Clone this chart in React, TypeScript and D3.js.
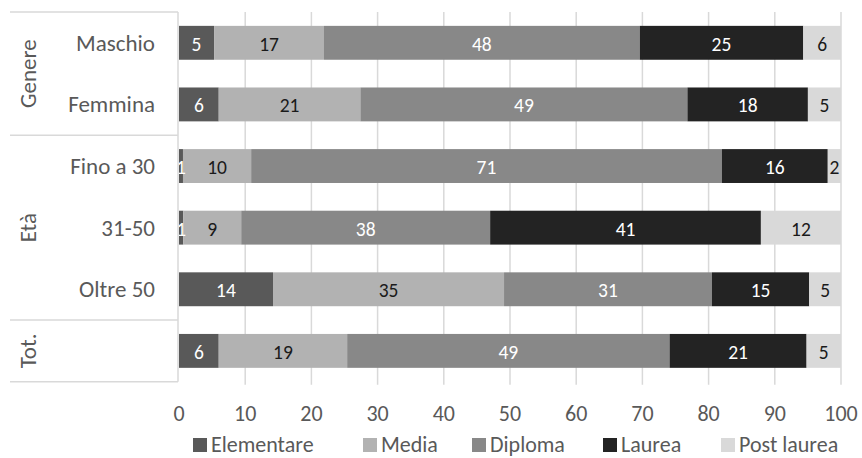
import { useEffect, useRef } from "react";
import * as d3 from "d3";

const categories = ["Maschio", "Femmina", "Fino a 30", "31-50", "Oltre 50", "Tot"];
const catLabels = ["Maschio", "Femmina", "Fino a 30", "31-50", "Oltre 50", ""];
const groupNames = ["Genere", "Età", "Tot."];
const groupSizes = [2, 3, 1];

const seriesNames = ["Elementare", "Media", "Diploma", "Laurea", "Post laurea"];
const elementare = [5.3, 6.0, 0.6, 0.65, 14.2, 6.0];
const media = [16.6, 21.4, 10.3, 8.75, 34.9, 19.4];
const diploma = [47.7, 49.4, 71.1, 37.6, 31.4, 48.7];
const laurea = [24.7, 18.2, 16.0, 40.9, 14.7, 20.7];
const postLaurea = [5.7, 5.0, 2.0, 12.1, 4.8, 5.2];
const xTicks = [0, 10, 20, 30, 40, 50, 60, 70, 80, 90, 100];

const colors = ["#595959", "#b2b2b2", "#888888", "#232323", "#d9d9d9"];
const labelColors = ["#ffffff", "#1a1a1a", "#ffffff", "#ffffff", "#1a1a1a"];
const font = "Carlito, Lato, sans-serif";

const W = 862;
const H = 458;

const App = () => {
    const svgRef = useRef<SVGSVGElement>(null);

    useEffect(() => {
        document.body.style.margin = "0";
        const svg = d3.select(svgRef.current);
        svg.selectAll("*").remove();

        const left = 179, right = 841, top = 12, bottom = 381.7;
        const x = d3.scaleLinear().domain([0, 100]).range([left, right]);
        const y = d3.scaleBand().domain(categories).range([top, bottom]).paddingInner(0.45).paddingOuter(0.225);

        const values = [elementare, media, diploma, laurea, postLaurea];
        const rows = categories.map((c, i) => {
            const r: any = { cat: c };
            seriesNames.forEach((s, j) => (r[s] = values[j][i]));
            return r;
        });
        const stacked = d3.stack().keys(seriesNames)(rows);

        // gridlines
        svg.append("g")
            .selectAll("line")
            .data(xTicks.slice(1))
            .join("line")
            .attr("x1", (d) => x(d))
            .attr("x2", (d) => x(d))
            .attr("y1", top)
            .attr("y2", bottom + 3)
            .attr("stroke", "#d9d9d9")
            .attr("stroke-width", 1.5);

        // bars
        svg.append("g")
            .selectAll("g")
            .data(stacked)
            .join("g")
            .attr("fill", (_, i) => colors[i])
            .selectAll("rect")
            .data((d) => d)
            .join("rect")
            .attr("x", (d) => x(d[0]))
            .attr("width", (d) => x(d[1]) - x(d[0]))
            .attr("y", (d) => y(d.data.cat as any)!)
            .attr("height", y.bandwidth());

        // data labels
        svg.append("g")
            .selectAll("g")
            .data(stacked)
            .join("g")
            .attr("fill", (_, i) => labelColors[i])
            .selectAll("text")
            .data((d) => d)
            .join("text")
            .attr("x", (d) => (x(d[0]) + x(d[1])) / 2)
            .attr("y", (d) => y(d.data.cat as any)! + y.bandwidth() / 2 + 1)
            .attr("text-anchor", "middle")
            .attr("dominant-baseline", "central")
            .style("font-family", font)
            .style("font-size", "19.5px")
            .text((d) => Math.round(d[1] - d[0]));

        // axis line and group frame
        const step = (bottom - top) / categories.length;
        const bounds = [0];
        groupSizes.forEach((n) => bounds.push(bounds[bounds.length - 1] + n));
        const bYs = bounds.map((k) => top + k * step);
        const frame = svg.append("g").attr("stroke", "#d9d9d9").attr("stroke-width", 1.5);
        frame.append("line").attr("x1", left - 1).attr("x2", left - 1).attr("y1", top).attr("y2", bottom);
        frame.selectAll("line.h")
            .data(bYs)
            .join("line")
            .attr("class", "h")
            .attr("x1", 10)
            .attr("x2", left - 1)
            .attr("y1", (d) => d)
            .attr("y2", (d) => d);

        // category labels
        svg.append("g")
            .selectAll("text")
            .data(categories)
            .join("text")
            .attr("x", 155)
            .attr("y", (d) => y(d)! + y.bandwidth() / 2)
            .attr("text-anchor", "end")
            .attr("dominant-baseline", "central")
            .attr("fill", "#595959")
            .style("font-family", font)
            .style("font-size", "23px")
            .text((_, i) => catLabels[i]);

        // group labels
        svg.append("g")
            .selectAll("text")
            .data(groupNames)
            .join("text")
            .attr("transform", (_, i) => `translate(28,${(bYs[i] + bYs[i + 1]) / 2}) rotate(-90)`)
            .attr("text-anchor", "middle")
            .attr("dominant-baseline", "central")
            .attr("fill", "#595959")
            .style("font-family", font)
            .style("font-size", "23px")
            .text((d) => d);

        // x tick labels
        svg.append("g")
            .selectAll("text")
            .data(xTicks)
            .join("text")
            .attr("x", (d) => x(d))
            .attr("y", 413)
            .attr("text-anchor", "middle")
            .attr("dominant-baseline", "central")
            .attr("fill", "#595959")
            .style("font-family", font)
            .style("font-size", "22px")
            .text((d) => d);

        // legend
        const legendX = [193, 363, 472, 603, 721];
        const legend = svg.append("g")
            .selectAll("g")
            .data(seriesNames)
            .join("g")
            .attr("transform", (_, i) => `translate(${legendX[i]},444)`);
        legend.append("rect")
            .attr("x", 0)
            .attr("y", -6)
            .attr("width", 14)
            .attr("height", 14)
            .attr("fill", (_, i) => colors[i]);
        legend.append("text")
            .attr("x", 18)
            .attr("y", 0)
            .attr("dominant-baseline", "central")
            .attr("fill", "#595959")
            .style("font-family", font)
            .style("font-size", "22px")
            .text((d) => d);
    }, []);

    return <svg ref={svgRef} width={W} height={H} style={{ display: "block", background: "#fff" }} />;
};

export default App;
